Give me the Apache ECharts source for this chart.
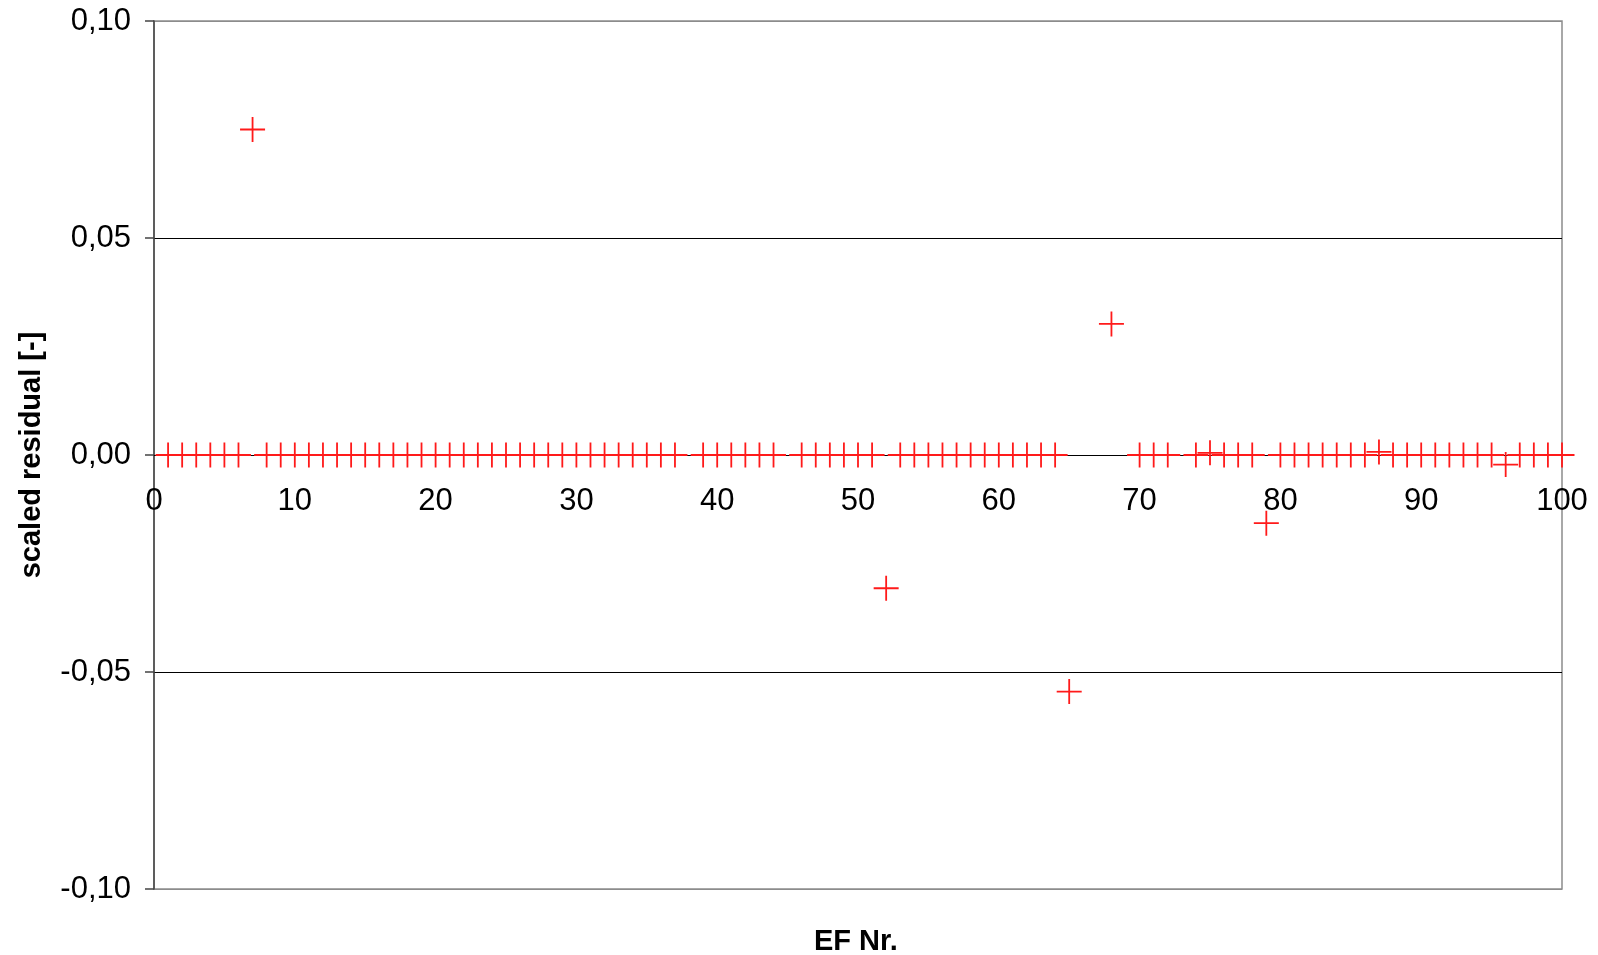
<!DOCTYPE html>
<html>
<head>
<meta charset="utf-8">
<title>scaled residual</title>
<script src="https://cdn.jsdelivr.net/npm/echarts@6/dist/echarts.min.js"></script>
<style>
  html, body { margin: 0; padding: 0; background: #fff; }
  #main { width: 1598px; height: 955px; }
</style>
</head>
<body>
<div id="main"></div>
<script>
// EF numbers that have a residual (38, 45, 66, 67, 69, 73 are not drawn)
const efNr = [
  1, 2, 3, 4, 5, 6, 7, 8, 9, 10,
  11, 12, 13, 14, 15, 16, 17, 18, 19, 20,
  21, 22, 23, 24, 25, 26, 27, 28, 29, 30,
  31, 32, 33, 34, 35, 36, 37, 39, 40,
  41, 42, 43, 44, 46, 47, 48, 49, 50,
  51, 52, 53, 54, 55, 56, 57, 58, 59, 60,
  61, 62, 63, 64, 65, 68, 70,
  71, 72, 74, 75, 76, 77, 78, 79, 80,
  81, 82, 83, 84, 85, 86, 87, 88, 89, 90,
  91, 92, 93, 94, 95, 96, 97, 98, 99, 100
];
const residual = [
  0, 0, 0, 0, 0, 0, 0.075, 0, 0, 0,
  0, 0, 0, 0, 0, 0, 0, 0, 0, 0,
  0, 0, 0, 0, 0, 0, 0, 0, 0, 0,
  0, 0, 0, 0, 0, 0, 0, 0, 0,
  0, 0, 0, 0, 0, 0, 0, 0, 0,
  0, -0.0307, 0, 0, 0, 0, 0, 0, 0, 0,
  0, 0, 0, 0, -0.0545, 0.0302, 0,
  0, 0, 0, 0.0005, 0, 0, 0, -0.0157, 0,
  0, 0, 0, 0, 0, 0, 0.0007, 0, 0, 0,
  0, 0, 0, 0, 0, -0.0022, 0, 0, 0, 0
];
const yTicks = [-0.10, -0.05, 0, 0.05, 0.10];

const points = efNr.map((x, i) => [x, residual[i]]);
const font = '"Liberation Sans", Arial, sans-serif';

// plot box
const gridTop = 21, gridBottom = 66, chartH = 955;
const plotH = chartH - gridTop - gridBottom;
// x axis sits on the zero line (middle of the symmetric y range)
const zeroOffset = -plotH / 2;

const chart = echarts.init(document.getElementById('main'));
chart.setOption({
  animation: false,
  grid: {
    left: 154, right: 36, top: gridTop, bottom: gridBottom,
    show: true, borderColor: '#8c8c8c', borderWidth: 1.5, backgroundColor: '#fff'
  },
  xAxis: {
    type: 'value', min: 0, max: 100, interval: 10,
    position: 'bottom', offset: zeroOffset,
    axisLine: { onZero: false, lineStyle: { color: '#000', width: 1 } },
    axisTick: { show: false },
    axisLabel: { color: '#000', fontSize: 31, fontFamily: font, margin: 31 },
    splitLine: { show: false }
  },
  yAxis: {
    type: 'value', min: yTicks[0], max: yTicks[yTicks.length - 1], interval: 0.05,
    axisLine: { onZero: false, lineStyle: { color: '#444', width: 1.5 } },
    axisTick: { show: true, length: 9, lineStyle: { color: '#444', width: 1.5 } },
    axisLabel: {
      color: '#000', fontSize: 31, fontFamily: font, margin: 23,
      formatter: v => v.toFixed(2).replace('.', ',')
    },
    splitLine: { show: true, lineStyle: { color: ['#8c8c8c', '#000', '#000', '#000', '#8c8c8c'], width: 1.2 } },
    name: 'scaled residual [-]', nameLocation: 'middle', nameGap: 108,
    nameTextStyle: { color: '#000', fontSize: 29, fontWeight: 'bold', fontFamily: font }
  },
  graphic: [{
    type: 'text', left: 814, top: 927,
    style: { text: 'EF Nr.', fill: '#000', fontSize: 29, fontWeight: 'bold', fontFamily: font }
  }],
  series: [{
    type: 'scatter',
    data: points,
    symbol: 'path://M12,0L12,24M0,12L24,12',
    symbolSize: 25,
    itemStyle: { color: 'none', borderColor: '#ff1a1a', borderWidth: 1.8, opacity: 1 },
    z: 5
  }]
});
</script>
</body>
</html>
